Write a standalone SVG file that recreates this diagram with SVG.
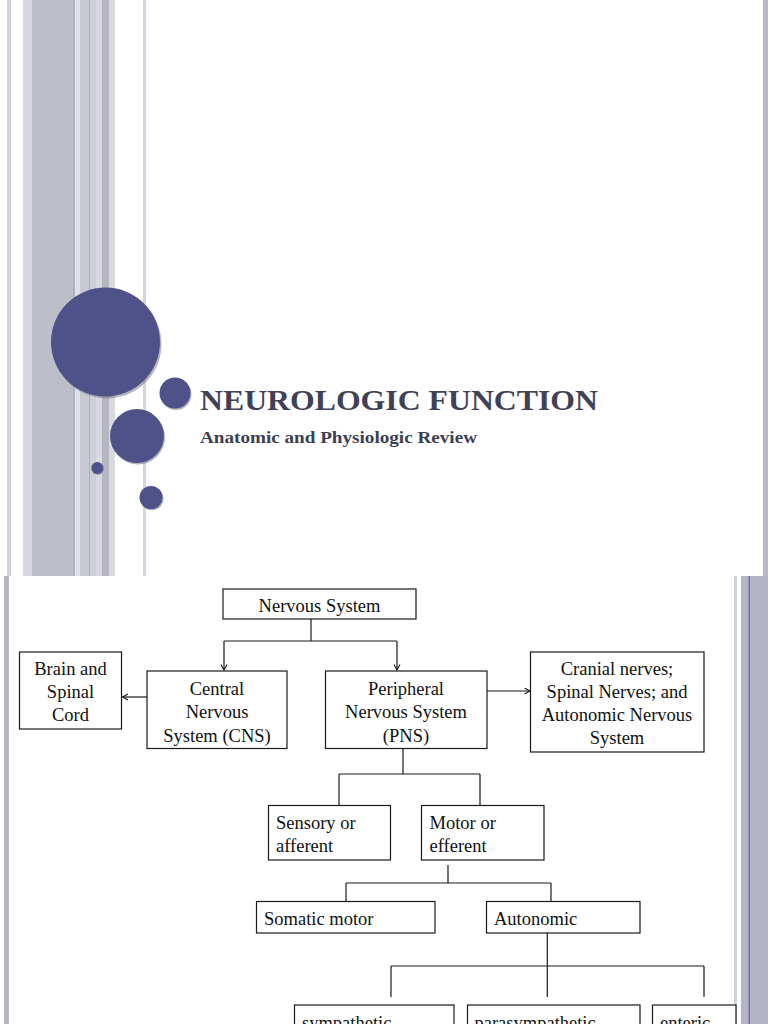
<svg xmlns="http://www.w3.org/2000/svg" width="768" height="1024" viewBox="0 0 768 1024">
<defs>
<style>
.box{fill:#fff;stroke:#1a1a1a;stroke-width:1.2}
.t{font-family:"Liberation Serif","Times New Roman",serif;font-size:18.5px;fill:#111}
.c{text-anchor:middle}
.ln{stroke:#1a1a1a;stroke-width:1.2;fill:none}
.dot{fill:#4f5189}
.sh{fill:#77778a;opacity:0.55}
</style>
<marker id="ah" markerWidth="8" markerHeight="8" refX="6" refY="3.5" orient="auto" markerUnits="userSpaceOnUse">
<path d="M0.5,0.5 L6,3.5 L0.5,6.5" fill="none" stroke="#1a1a1a" stroke-width="1.1"/>
</marker>
</defs>
<rect width="768" height="1024" fill="#fff"/>
<!-- top slide stripes -->
<g id="top-stripes">
<rect x="7" y="0" width="4" height="576" fill="#d2d2e0"/>
<rect x="23" y="0" width="9" height="576" fill="#d6d6de"/>
<rect x="32" y="0" width="41" height="576" fill="#bebecb"/>
<rect x="73" y="0" width="2" height="576" fill="#b2b2c4"/>
<rect x="75" y="0" width="5" height="576" fill="#e0e0e8"/>
<rect x="80" y="0" width="9" height="576" fill="#c9c9d4"/>
<rect x="89" y="0" width="1" height="576" fill="#b0b0c0"/>
<rect x="90" y="0" width="6" height="576" fill="#cfcfd8"/>
<rect x="96" y="0" width="6" height="576" fill="#d9d9e1"/>
<rect x="102" y="0" width="7" height="576" fill="#b6b6c2"/>
<rect x="109" y="0" width="6" height="576" fill="#dadade"/>
<rect x="143" y="0" width="3" height="576" fill="#d4d4e2"/>
<rect x="763" y="0" width="5" height="576" fill="#b8b8c8"/>
</g>
<g id="circles">
<circle class="sh" cx="107" cy="344" r="54.5"/>
<circle class="dot" cx="105.5" cy="342" r="54.5"/>
<circle class="sh" cx="176" cy="394.5" r="15.5"/>
<circle class="dot" cx="175" cy="393" r="15.5"/>
<circle class="sh" cx="138" cy="437.5" r="27"/>
<circle class="dot" cx="137" cy="436" r="27"/>
<circle class="sh" cx="98" cy="469" r="6"/>
<circle class="dot" cx="97.3" cy="468" r="6"/>
<circle class="sh" cx="152" cy="499" r="11.5"/>
<circle class="dot" cx="151" cy="497.5" r="11.5"/>
</g>
<g id="title">
<text x="200" y="410" font-family="Liberation Serif, Times New Roman, serif" font-weight="bold" font-size="30" fill="#3f4256" textLength="398" lengthAdjust="spacingAndGlyphs">NEUROLOGIC FUNCTION</text>
<text x="200" y="442.5" font-family="Liberation Serif, Times New Roman, serif" font-weight="bold" font-size="16.5" fill="#3c3f52" textLength="277" lengthAdjust="spacingAndGlyphs">Anatomic and Physiologic Review</text>
</g>
<!-- bottom slide stripes -->
<g id="bottom-stripes">
<rect x="4" y="576" width="5" height="448" fill="#b6b6c8"/>
<rect x="734" y="576" width="3" height="448" fill="#d2d2de"/>
<rect x="741" y="576" width="27" height="448" fill="#b4b4c6"/>
<rect x="748.5" y="576" width="1.5" height="448" fill="#6e6e9e"/>
</g>
<g id="connectors">
<line class="ln" x1="311" y1="619" x2="311" y2="641"/>
<line class="ln" x1="224" y1="641" x2="397" y2="641"/>
<line class="ln" x1="224" y1="641" x2="224" y2="670" marker-end="url(#ah)"/>
<line class="ln" x1="397" y1="641" x2="397" y2="670" marker-end="url(#ah)"/>
<line class="ln" x1="147" y1="697" x2="122.5" y2="697" marker-end="url(#ah)"/>
<line class="ln" x1="487" y1="691" x2="530" y2="691" marker-end="url(#ah)"/>
<line class="ln" x1="403" y1="748" x2="403" y2="774"/>
<line class="ln" x1="339" y1="774" x2="480" y2="774"/>
<line class="ln" x1="339" y1="774" x2="339" y2="805.5"/>
<line class="ln" x1="480" y1="774" x2="480" y2="805.5"/>
<line class="ln" x1="448" y1="865" x2="448" y2="883"/>
<line class="ln" x1="346" y1="883" x2="551" y2="883"/>
<line class="ln" x1="346" y1="883" x2="346" y2="901.5"/>
<line class="ln" x1="551" y1="883" x2="551" y2="901.5"/>
<line class="ln" x1="547.3" y1="933" x2="547.3" y2="997"/>
<line class="ln" x1="391" y1="966" x2="704" y2="966"/>
<line class="ln" x1="391" y1="966" x2="391" y2="997"/>
<line class="ln" x1="704" y1="966" x2="704" y2="997"/>
</g>
<g id="nervous-system">
<rect class="box" x="223" y="589" width="193" height="30"/>
<text class="t c" x="319.5" y="612">Nervous System</text>
</g>
<g id="brain-spinal">
<rect class="box" x="19.5" y="652" width="102" height="77"/>
<text class="t c" x="70.5" y="675">Brain and</text>
<text class="t c" x="70.5" y="698">Spinal</text>
<text class="t c" x="70.5" y="721">Cord</text>
</g>
<g id="cns">
<rect class="box" x="147" y="671" width="140" height="77.5"/>
<text class="t c" x="217" y="695">Central</text>
<text class="t c" x="217" y="718">Nervous</text>
<text class="t c" x="217" y="741.5">System (CNS)</text>
</g>
<g id="pns">
<rect class="box" x="325.5" y="671" width="161.5" height="77.5"/>
<text class="t c" x="406" y="695">Peripheral</text>
<text class="t c" x="406" y="718">Nervous System</text>
<text class="t c" x="406" y="741.5">(PNS)</text>
</g>
<g id="cranial">
<rect class="box" x="530.5" y="652" width="173.5" height="100"/>
<text class="t c" x="617" y="675">Cranial nerves;</text>
<text class="t c" x="617" y="698">Spinal Nerves; and</text>
<text class="t c" x="617" y="721">Autonomic Nervous</text>
<text class="t c" x="617" y="744">System</text>
</g>
<g id="sensory">
<rect class="box" x="268.5" y="805.5" width="122" height="54.5"/>
<text class="t" x="276" y="829">Sensory or</text>
<text class="t" x="276" y="852">afferent</text>
</g>
<g id="motor">
<rect class="box" x="421.5" y="805.5" width="122.5" height="54.5"/>
<text class="t" x="429.5" y="829">Motor or</text>
<text class="t" x="429.5" y="852">efferent</text>
</g>
<g id="somatic">
<rect class="box" x="256.5" y="901.5" width="178.5" height="31.5"/>
<text class="t" x="264" y="925">Somatic motor</text>
</g>
<g id="autonomic">
<rect class="box" x="486.5" y="901.5" width="153.5" height="31.5"/>
<text class="t" x="494" y="925">Autonomic</text>
</g>
<g id="sympathetic">
<rect class="box" x="294.5" y="1005" width="159.5" height="40"/>
<text class="t" x="302" y="1029">sympathetic</text>
</g>
<g id="parasympathetic">
<rect class="box" x="467.5" y="1005" width="172.5" height="40"/>
<text class="t" x="474.5" y="1029">parasympathetic</text>
</g>
<g id="enteric">
<rect class="box" x="652.5" y="1005" width="83.5" height="40"/>
<text class="t" x="660" y="1029">enteric</text>
</g>
</svg>
